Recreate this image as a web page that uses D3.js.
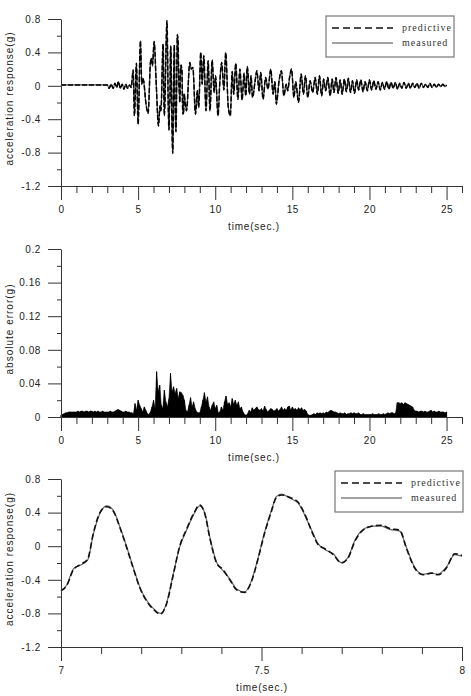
<!DOCTYPE html>
<html><head><meta charset="utf-8">
<script src="https://cdn.jsdelivr.net/npm/d3@7"></script>
<style>
body{margin:0;background:#fff;}
svg{display:block;}
.tick text{font-family:"Liberation Sans",Arial,sans-serif;font-size:10px;letter-spacing:0.6px;fill:#222;}
.title{font-family:"Liberation Sans",Arial,sans-serif;font-size:10px;fill:#222;}
.leg{font-family:"Liberation Serif","Times New Roman",serif;font-size:10px;letter-spacing:1px;fill:#333;}
</style></head><body>
<svg id="chart" width="471" height="696"></svg>
<script>
// ---------- DATA ----------
// Full record, measured acceleration (g): [time (s), value] (7-8 s taken from zoom panel)
const accEarly = [[0,0.01],[3.0,0.01],[3.12,-0.03],[3.25,0.02],[3.38,-0.03],[3.5,0.03],[3.62,-0.02],[3.72,0.05],[3.85,-0.03],[3.97,0.02],[4.08,-0.04],[4.2,0.02],[4.32,-0.03],[4.45,0.01],[4.55,-0.02],
[4.68,0.19],[4.76,-0.36],[4.89,0.27],[5.0,-0.46],[5.15,0.54],[5.24,0.02],[5.3,0.09],[5.36,0.06],[5.5,-0.2],[5.65,-0.33],[5.8,0.28],[5.86,0.33],[5.93,0.24],[6.04,0.53],[6.18,0.0],[6.32,-0.48],[6.42,-0.24],[6.48,-0.3],[6.62,0.5],[6.7,-0.36],[6.87,0.78],[6.96,-0.3]];
const accLate = [[8.14,-0.3],[8.35,0.28],[8.45,0.2],[8.55,0.22],[8.72,-0.34],[8.84,-0.06],[8.93,-0.26],[9.06,0.4],[9.15,0.02],[9.26,0.36],[9.4,-0.3],[9.54,0.3],[9.66,-0.3],[9.8,0.31],[9.93,-0.08],[10.02,0.12],[10.18,-0.36],[10.3,0.05],[10.42,0.28],[10.56,-0.05],[10.68,0.4],[10.84,-0.24],[10.98,-0.36],[11.1,0.17],[11.2,-0.1],[11.33,0.27],[11.47,-0.16],[11.6,0.2],[11.74,-0.17],[11.87,0.15],[11.98,-0.12],[12.08,0.23],[12.22,-0.1],[12.32,0.12],[12.42,-0.14],[12.58,0.05],[12.7,0.18],[12.84,-0.06],[12.95,0.16],[13.1,-0.16],[13.27,0.1],[13.42,-0.04],[13.6,0.2],[13.75,-0.1],[13.87,0.05],[13.96,-0.22],[14.14,0.06],[14.29,0.18],[14.45,-0.12],[14.6,0.02],[14.7,-0.06],[14.82,0.1],[14.95,0.2],[15.1,-0.14],[15.22,0.05],[15.4,-0.2],[15.57,0.14],[15.72,-0.1],[15.85,0.12],[16.0,-0.14],[16.15,0.06],[16.32,-0.08],[16.48,0.1],[16.62,-0.1],[16.76,0.12],[16.9,-0.12],[17.03,0.08],[17.16,-0.06],[17.3,0.1],[17.45,-0.12],[17.58,0.08],[17.7,-0.08],[17.83,0.1],[17.97,-0.09],[18.1,0.07],[18.23,-0.1],[18.37,0.08],[18.5,-0.07],[18.63,0.09],[18.77,-0.08],[18.9,0.06],[19.03,-0.09],[19.17,0.07],[19.3,-0.05],[19.44,0.07],[19.58,-0.07],[19.72,0.05],[19.86,-0.06],[20.0,0.07],[20.14,-0.05],[20.28,0.06],[20.42,-0.04],[20.56,0.05],[20.7,-0.05],[20.84,0.04],[20.98,-0.04],[21.12,0.05],[21.26,-0.04],[21.4,0.04],[21.54,-0.03],[21.68,0.04],[21.82,-0.04],[21.96,0.03],[22.1,-0.03],[22.24,0.04],[22.38,-0.03],[22.52,0.03],[22.66,-0.03],[22.8,0.03],[22.94,-0.02],[23.08,0.03],[23.22,-0.03],[23.36,0.03],[23.5,-0.02],[23.64,0.02],[23.78,-0.02],[23.92,0.03],[24.06,-0.02],[24.2,0.02],[24.34,-0.02],[24.48,0.02],[24.62,-0.01],[24.76,0.02],[24.9,-0.01],[25.0,0.01]];

// Zoomed window 7-8 s
const zoomTime = [7.0,7.014,7.031,7.047,7.066,7.081,7.097,7.114,7.13,7.147,7.164,7.18,7.197,7.213,7.23,7.248,7.263,7.28,7.296,7.313,7.33,7.346,7.359,7.371,7.388,7.404,7.421,7.438,7.458,7.475,7.492,7.508,7.525,7.537,7.55,7.571,7.592,7.608,7.625,7.641,7.658,7.679,7.699,7.716,7.733,7.753,7.778,7.799,7.82,7.845,7.861,7.882,7.903,7.924,7.94,7.961,7.982,8.0];
const zoomMeasured = [-0.525,-0.465,-0.27,-0.23,-0.17,0.15,0.39,0.48,0.43,0.23,-0.01,-0.25,-0.49,-0.64,-0.74,-0.80,-0.68,-0.33,-0.01,0.19,0.37,0.48,0.39,0.11,-0.19,-0.29,-0.39,-0.51,-0.545,-0.41,-0.13,0.17,0.43,0.59,0.62,0.57,0.51,0.37,0.19,0.03,-0.04,-0.09,-0.195,-0.13,0.07,0.2,0.24,0.24,0.2,0.18,-0.01,-0.25,-0.335,-0.32,-0.335,-0.25,-0.1,-0.12];
const zoomPredicted = [-0.53,-0.47,-0.28,-0.22,-0.16,0.16,0.40,0.47,0.42,0.22,-0.02,-0.26,-0.50,-0.65,-0.75,-0.81,-0.69,-0.34,0.00,0.20,0.38,0.49,0.38,0.10,-0.20,-0.28,-0.40,-0.52,-0.55,-0.42,-0.14,0.16,0.42,0.58,0.61,0.58,0.52,0.38,0.18,0.02,-0.03,-0.10,-0.20,-0.14,0.06,0.19,0.24,0.25,0.21,0.19,-0.02,-0.26,-0.34,-0.32,-0.34,-0.26,-0.09,-0.11];

// Absolute error (g), sampled every 0.1 s from 0 to 25 s
const errStep = 0.1;
const errValues = [
0.002,0.003,0.004,0.005,0.005,0.006,0.006,0.006,0.006,0.006,
0.006,0.007,0.006,0.007,0.007,0.006,0.007,0.007,0.006,0.007,
0.007,0.006,0.007,0.006,0.007,0.006,0.006,0.007,0.006,0.006,
0.006,0.006,0.007,0.006,0.006,0.007,0.008,0.009,0.008,0.007,
0.006,0.006,0.007,0.006,0.006,0.005,0.005,0.004,0.016,0.008,
0.020,0.014,0.010,0.006,0.012,0.008,0.004,0.003,0.006,0.012,
0.020,0.010,0.054,0.030,0.038,0.014,0.010,0.032,0.018,0.012,
0.022,0.052,0.030,0.036,0.028,0.034,0.022,0.030,0.029,0.026,
0.020,0.008,0.006,0.014,0.023,0.012,0.018,0.010,0.006,0.005,
0.005,0.012,0.020,0.029,0.018,0.024,0.012,0.008,0.014,0.018,
0.010,0.014,0.005,0.006,0.012,0.008,0.018,0.025,0.015,0.017,
0.012,0.022,0.015,0.020,0.014,0.018,0.010,0.012,0.006,0.003,
0.002,0.004,0.008,0.006,0.011,0.008,0.010,0.012,0.009,0.008,
0.010,0.007,0.013,0.009,0.006,0.008,0.010,0.009,0.007,0.008,
0.010,0.007,0.009,0.012,0.008,0.010,0.008,0.012,0.013,0.008,
0.012,0.009,0.010,0.008,0.011,0.009,0.011,0.008,0.009,0.007,
0.003,0.002,0.002,0.003,0.004,0.003,0.005,0.004,0.005,0.004,
0.005,0.004,0.006,0.005,0.007,0.008,0.007,0.006,0.006,0.005,
0.004,0.005,0.004,0.004,0.005,0.003,0.004,0.004,0.005,0.004,
0.005,0.004,0.004,0.005,0.003,0.003,0.004,0.003,0.003,0.003,
0.003,0.003,0.004,0.003,0.003,0.003,0.004,0.003,0.003,0.004,
0.003,0.004,0.005,0.004,0.005,0.005,0.004,0.005,0.017,0.017,
0.016,0.017,0.015,0.017,0.016,0.015,0.014,0.013,0.012,0.008,
0.007,0.007,0.006,0.007,0.007,0.006,0.007,0.006,0.006,0.007,
0.008,0.006,0.007,0.006,0.006,0.007,0.006,0.006,0.006,0.005,
0.006];

// Tick values
const accTicks = [-1.2,-0.8,-0.4,0,0.4,0.8];
const accMinor = [-1.0,-0.6,-0.2,0.2,0.6];
const errTicks = [0,0.04,0.08,0.12,0.16,0.2];
const errMinor = [0.02,0.06,0.10,0.14,0.18];
const timeTicks = [0,5,10,15,20,25];
const timeMinor = [1,2,3,4,6,7,8,9,11,12,13,14,16,17,18,19,21,22,23,24,26];
const zoomTicks = [7,7.5,8];
const zoomMinor = [7.1,7.2,7.3,7.4,7.6,7.7,7.8,7.9];
const legendLabels = ["predictive","measured"];

// ---------- DRAW ----------
const svg = d3.select("#chart");
const XL = 61, XR = 462;
const fmt = d => d === 0 ? "0" : String(+d.toFixed(2));

function panel(o){
  const g = svg.append("g");
  const x = d3.scaleLinear().domain(o.xDomain).range([XL, XR]);
  const y = d3.scaleLinear().domain(o.yDomain).range([o.yBottom, o.yTop]);
  const marks = g.append("g");
  const ya = g.append("g").attr("transform",`translate(${XL},0)`)
    .call(d3.axisLeft(y).tickValues(o.yTicks).tickFormat(fmt).tickSize(13).tickPadding(7).tickSizeOuter(0));
  ya.select(".domain").attr("stroke","#333");
  ya.selectAll(".tick line").attr("stroke","#333");
  const ym = g.append("g").attr("transform",`translate(${XL},0)`)
    .call(d3.axisLeft(y).tickValues(o.yMinor).tickFormat("").tickSize(4).tickSizeOuter(0));
  ym.select(".domain").remove();
  ym.selectAll(".tick line").attr("stroke","#333");
  const xa = g.append("g").attr("transform",`translate(0,${o.yBottom})`)
    .call(d3.axisBottom(x).tickValues(o.xTicks).tickFormat(o.xFmt).tickSize(14).tickPadding(6).tickSizeOuter(0));
  xa.select(".domain").attr("stroke","#333");
  xa.selectAll(".tick line").attr("stroke","#333");
  const xm = g.append("g").attr("transform",`translate(0,${o.yBottom})`)
    .call(d3.axisBottom(x).tickValues(o.xMinor).tickFormat("").tickSize(7).tickSizeOuter(0));
  xm.select(".domain").remove();
  xm.selectAll(".tick line").attr("stroke","#333");
  g.append("text").attr("class","title").attr("text-anchor","middle")
    .attr("x", o.xTitleX).attr("y", o.yBottom + 44).attr("letter-spacing","0.8px").text("time(sec.)");
  g.append("text").attr("class","title").attr("text-anchor","middle").attr("letter-spacing","1px")
    .attr("transform",`translate(13,${(o.yTop+o.yBottom)/2 - 4}) rotate(-90)`).text(o.yTitle);
  return {g,marks,x,y};
}

function legend(g, x0, y0){
  g.append("rect").attr("x",x0).attr("y",y0).attr("width",128).attr("height",41)
    .attr("fill","#fff").attr("stroke","#777").attr("stroke-width",1.2);
  g.append("line").attr("x1",x0+6).attr("x2",x0+67).attr("y1",y0+12).attr("y2",y0+12)
    .attr("stroke","#111").attr("stroke-width",1.6).attr("stroke-dasharray","7,4");
  g.append("line").attr("x1",x0+6).attr("x2",x0+67).attr("y1",y0+27).attr("y2",y0+27)
    .attr("stroke","#444").attr("stroke-width",1);
  g.append("text").attr("class","leg").attr("x",x0+76).attr("y",y0+15).text(legendLabels[0]);
  g.append("text").attr("class","leg").attr("x",x0+76).attr("y",y0+30).text(legendLabels[1]);
}

// Panel 1
const p1 = panel({xDomain:[0,26], yDomain:[-1.2,0.8], yTop:19, yBottom:186,
  yTicks:accTicks, yMinor:accMinor, xTicks:timeTicks, xMinor:timeMinor, xFmt:d3.format("d"),
  xTitleX:254, yTitle:"acceleration response(g)"});
const fullSeries = accEarly.concat(zoomTime.map((t,i)=>[t,zoomMeasured[i]]), accLate);
const fullPred = accEarly.concat(zoomTime.map((t,i)=>[t,zoomPredicted[i]]), accLate);
const line1 = d3.line().x(d=>p1.x(d[0])).y(d=>p1.y(d[1])).curve(d3.curveMonotoneX);
p1.marks.append("path").attr("d",line1(fullSeries)).attr("fill","none").attr("stroke","#444").attr("stroke-width",1.2);
p1.marks.append("path").attr("d",line1(fullPred)).attr("fill","none").attr("stroke","#000").attr("stroke-width",1.5).attr("stroke-dasharray","5,2");
legend(p1.g, 326, 16);

// Panel 2
const p2 = panel({xDomain:[0,26], yDomain:[0,0.2], yTop:249, yBottom:417,
  yTicks:errTicks, yMinor:errMinor, xTicks:timeTicks, xMinor:timeMinor, xFmt:d3.format("d"),
  xTitleX:254, yTitle:"absolute error(g)"});
const area2 = d3.area().x((d,i)=>p2.x(i*errStep)).y0(p2.y(0)).y1(d=>p2.y(d)).curve(d3.curveLinear);
p2.marks.append("path").attr("d",area2(errValues)).attr("fill","#000").attr("stroke","#000").attr("stroke-width",0.6);
p2.marks.selectAll("line.needle").data(errValues).join("line").attr("class","needle")
  .attr("x1",(d,i)=>p2.x(i*errStep)).attr("x2",(d,i)=>p2.x(i*errStep))
  .attr("y1",p2.y(0)).attr("y2",d=>p2.y(d)).attr("stroke","#000").attr("stroke-width",1);

// Panel 3
const p3 = panel({xDomain:[7,8], yDomain:[-1.2,0.8], yTop:479, yBottom:647,
  yTicks:accTicks, yMinor:accMinor, xTicks:zoomTicks, xMinor:zoomMinor, xFmt:d=>String(d),
  xTitleX:262, yTitle:"acceleration response(g)"});
const line3 = d3.line().x((d,i)=>p3.x(zoomTime[i])).y(d=>p3.y(d)).curve(d3.curveMonotoneX);
p3.marks.append("path").attr("d",line3(zoomMeasured)).attr("fill","none").attr("stroke","#666").attr("stroke-width",1.2);
p3.marks.append("path").attr("d",line3(zoomPredicted)).attr("fill","none").attr("stroke","#111").attr("stroke-width",1.6).attr("stroke-dasharray","6,3");
legend(p3.g, 335, 471);
</script>
</body></html>
